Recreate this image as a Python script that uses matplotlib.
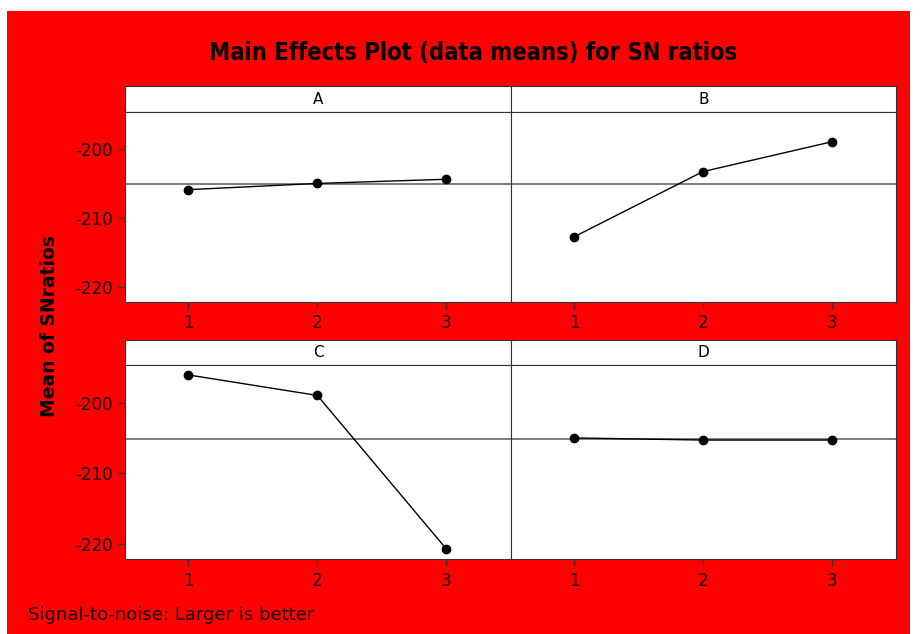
import matplotlib.pyplot as plt
from matplotlib.patches import Rectangle

factors = ["A", "B", "C", "D"]
levels = [1, 2, 3]
sn_A = [-205.9, -205.0, -204.4]
sn_B = [-212.7, -203.3, -199.0]
sn_C = [-196.1, -199.0, -220.7]
sn_D = [-205.0, -205.3, -205.3]
grand_mean = -205.1
yticks = [-200, -210, -220]

W, H = 924, 634
plt.rcParams["font.family"] = "DejaVu Sans"
plt.rcParams["font.stretch"] = "normal"
plt.rcParams["axes.unicode_minus"] = False


def box(x0, y0, x1, y1):
    # pixel box (top-left origin) -> figure rect
    return [x0 / W, 1 - y1 / H, (x1 - x0) / W, (y1 - y0) / H]


fig = plt.figure(figsize=(W / 100, H / 100), dpi=100, facecolor="white")
fig.patches.append(Rectangle((7 / W, 0), 903 / W, 1 - 11 / H, transform=fig.transFigure,
                             facecolor="#ff0000", edgecolor="none", zorder=-5))

cols = [(125, 511), (511, 896)]
rows = [(86, 112, 302), (340, 365, 559)]
series = [sn_A, sn_B, sn_C, sn_D]
edge = "#333333"

for i, (name, vals) in enumerate(zip(factors, series)):
    r, c = divmod(i, 2)
    x0, x1 = cols[c]
    s0, p0, p1 = rows[r]

    strip = fig.add_axes(box(x0, s0, x1, p0))
    strip.set_facecolor("white")
    strip.set_xticks([])
    strip.set_yticks([])
    for sp in strip.spines.values():
        sp.set_color(edge)
    strip.text(0.5, 0.5, name, ha="center", va="center", fontsize=11, color="black")

    ax = fig.add_axes(box(x0, p0, x1, p1))
    ax.set_facecolor("white")
    ax.axhline(grand_mean, color="#666666", lw=1.2, zorder=1)
    ax.plot(levels, vals, color="black", lw=1, marker="o", ms=6, zorder=3)
    ax.set_xlim(0.51, 3.5)
    ax.set_ylim(-222.1, -194.7)
    ax.set_xticks(levels)
    ax.set_yticks(yticks)
    ax.tick_params(direction="out", length=5, width=1, colors=edge,
                   labelcolor="#1a0000", labelsize=12, pad=4)
    if c == 1:
        ax.tick_params(axis="y", left=False, labelleft=False)
    for sp in ax.spines.values():
        sp.set_color(edge)

fig.text(473 / W, 1 - 53 / H, "Main Effects Plot (data means) for SN ratios",
         ha="center", va="center", fontsize=17, fontweight="bold",
         stretch="condensed", color="black")
fig.text(50 / W, 1 - 326 / H, "Mean of SNratios", rotation=90, ha="center",
         va="center", fontsize=13.5, fontweight="bold", color="black")
fig.text(28 / W, 1 - 615 / H, "Signal-to-noise: Larger is better", ha="left",
         va="center", fontsize=13, color="#1a0000")

fig.savefig("out.png", dpi=100, facecolor="white")
